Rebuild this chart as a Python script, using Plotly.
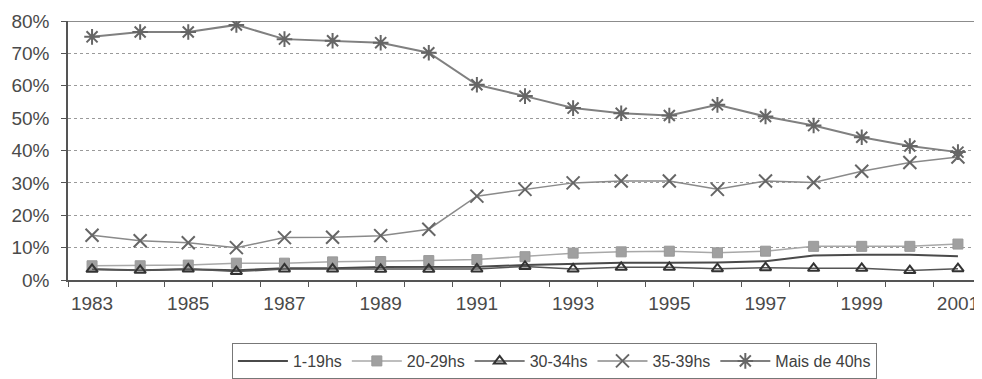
import plotly.graph_objects as go

years = list(range(1983, 2002))
h1_19 = [3.3, 3.0, 3.3, 3.0, 3.6, 3.6, 4.0, 4.0, 4.1, 4.6, 5.0, 5.3, 5.3, 5.4, 5.8, 7.6, 7.8, 7.8, 7.3]
h20_29 = [4.4, 4.4, 4.6, 5.2, 5.2, 5.6, 5.7, 6.0, 6.3, 7.2, 8.3, 8.7, 8.9, 8.4, 8.9, 10.4, 10.4, 10.4, 11.1]
h30_34 = [3.3, 3.0, 3.4, 2.6, 3.4, 3.4, 3.3, 3.3, 3.4, 4.2, 3.4, 3.9, 3.9, 3.5, 3.8, 3.6, 3.6, 2.9, 3.5]
h35_39 = [13.8, 12.1, 11.5, 10.0, 13.1, 13.2, 13.7, 15.7, 25.9, 28.0, 30.0, 30.6, 30.6, 28.0, 30.6, 30.1, 33.6, 36.3, 38.0]
h40 = [75.1, 76.6, 76.6, 78.8, 74.4, 73.9, 73.3, 70.2, 60.3, 56.8, 53.1, 51.5, 50.8, 54.1, 50.5, 47.7, 44.1, 41.4, 39.5]
names = ["1-19hs", "20-29hs", "30-34hs", "35-39hs", "Mais de 40hs"]
label_years = list(range(1983, 2002, 2))
boundaries = [y + 0.5 for y in range(1982, 2002)]
y_ticks = list(range(0, 81, 10))

FONT = "Arial, Liberation Sans, sans-serif"

fig = go.Figure()
fig.add_trace(go.Scatter(x=years, y=h1_19, name=names[0], mode="lines",
                         line=dict(color="#4a4a4a", width=2)))
fig.add_trace(go.Scatter(x=years, y=h20_29, name=names[1], mode="lines+markers",
                         line=dict(color="#a8a8a8", width=1.5),
                         marker=dict(symbol="square", size=10, color="#a0a0a0",
                                     line=dict(color="#999999", width=1))))
fig.add_trace(go.Scatter(x=years, y=h30_34, name=names[2], mode="lines+markers",
                         line=dict(color="#555555", width=1.5),
                         marker=dict(symbol="triangle-up-open", size=10, color="#333333",
                                     line=dict(width=2))))
fig.add_trace(go.Scatter(x=years, y=h35_39, name=names[3], mode="lines+markers",
                         line=dict(color="#8a8a8a", width=1.5),
                         marker=dict(symbol="x-thin-open", size=13, color="#666666",
                                     line=dict(width=2))))
fig.add_trace(go.Scatter(x=years, y=h40, name=names[4], mode="lines+markers",
                         line=dict(color="#808080", width=2),
                         marker=dict(symbol="asterisk-open", size=13, color="#666666",
                                     line=dict(width=2))))

fig.add_shape(type="line", xref="paper", yref="y", x0=0, x1=1, y0=80, y1=80,
              line=dict(color="#666666", width=1.5))

# The page body adds an 8 px margin, so the figure is sized to the visible area.
fig.update_layout(
    width=974, height=371,
    margin=dict(l=60, r=0, t=13, b=99),
    paper_bgcolor="white", plot_bgcolor="white",
    font=dict(family=FONT, size=19, color="#4a4a4a"),
    showlegend=True,
    legend=dict(orientation="h", xref="container", yref="container",
                x=0.561, xanchor="center", y=0.097, yanchor="top",
                bordercolor="#777777", borderwidth=1, bgcolor="white",
                font=dict(size=16, color="#404040"), itemwidth=50,
                tracegroupgap=0),
    xaxis=dict(range=[1982.5, 2001.5], tickmode="array", tickvals=label_years,
               ticktext=[str(y) for y in label_years], ticks="", showgrid=False,
               showline=True, linecolor="#555555", linewidth=1.5, zeroline=False,
               ticklabelstandoff=5, ticklabeloverflow="allow",
               minor=dict(tickmode="array", tickvals=boundaries, ticks="outside",
                          ticklen=5, tickcolor="#555555", showgrid=False)),
    yaxis=dict(range=[0, 80], tickmode="array", tickvals=y_ticks,
               ticktext=[f"{v}%" for v in y_ticks], ticks="outside", ticklen=5,
               tickcolor="#555555", showgrid=True, gridcolor="#9a9a9a", griddash="dot",
               gridwidth=1, showline=True, linecolor="#555555", linewidth=1.5,
               zeroline=False, ticklabelstandoff=8),
)

fig.write_html("out.html")
